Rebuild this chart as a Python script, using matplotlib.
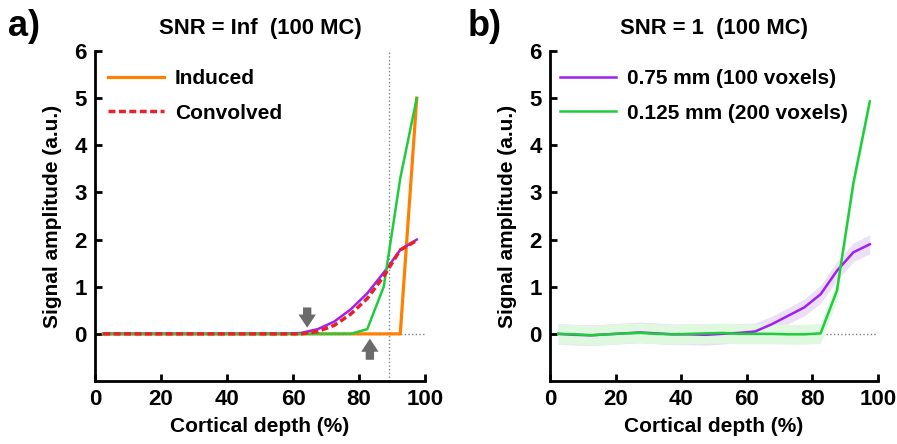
import matplotlib
matplotlib.use("Agg")
import matplotlib.pyplot as plt
import numpy as np

plt.rcParams["font.family"] = ["Liberation Sans", "DejaVu Sans"]
plt.rcParams["font.weight"] = "bold"

# cortical depth sampling (%)
depth = [2.5, 7.5, 12.5, 17.5, 22.5, 27.5, 32.5, 37.5, 42.5, 47.5,
         52.5, 57.5, 62.5, 67.5, 72.5, 77.5, 82.5, 87.5, 92.5, 97.5]

# panel a: SNR = Inf
induced = [0, 0, 0, 0, 0, 0, 0, 0, 0, 0, 0, 0, 0, 0, 0, 0, 0, 0, 0, 5.0]
convolved = [0, 0, 0, 0, 0, 0, 0, 0, 0, 0, 0, 0, 0.0, 0.05, 0.18, 0.42, 0.75, 1.22, 1.78, 1.98]
coarse_inf = [0, 0, 0, 0, 0, 0, 0, 0, 0, 0, 0, 0, 0.02, 0.1, 0.26, 0.52, 0.86, 1.3, 1.78, 2.0]
fine_inf = [0, 0, 0, 0, 0, 0, 0, 0, 0, 0, 0, 0, 0, 0, 0, 0, 0.1, 1.0, 3.3, 5.0]

# panel b: SNR = 1 (mean and spread over MC runs)
coarse_snr1 = [0.0, -0.02, -0.03, -0.01, 0.01, 0.03, 0.01, -0.01, -0.01, -0.02,
               0.0, 0.02, 0.05, 0.2, 0.38, 0.56, 0.84, 1.34, 1.73, 1.9]
coarse_sd = [0.22, 0.22, 0.22, 0.22, 0.22, 0.22, 0.22, 0.22, 0.22, 0.22,
             0.22, 0.2, 0.18, 0.17, 0.17, 0.18, 0.19, 0.2, 0.2, 0.2]
fine_snr1 = [0.0, -0.01, -0.03, -0.01, 0.01, 0.02, 0.0, -0.01, 0.0, 0.01,
             0.02, 0.0, 0.0, 0.0, -0.01, -0.01, 0.01, 0.92, 3.2, 4.93]
fine_sd = [0.21, 0.21, 0.21, 0.21, 0.21, 0.21, 0.21, 0.21, 0.21, 0.21,
           0.21, 0.21, 0.21, 0.21, 0.21, 0.21, 0.21, 0.2, 0.18, 0.15]

ORANGE = "#ff8000"
RED = "#e8202a"
PURPLE = "#a020f0"
GREEN = "#1fcc3c"
GREY = "#808080"

FS = 15

fig = plt.figure(figsize=(8.97, 4.44), dpi=100)
ax_a = fig.add_axes([95 / 897, 63 / 444, 330 / 897, 330 / 444])
ax_b = fig.add_axes([550 / 897, 63 / 444, 328 / 897, 330 / 444])


def style(ax, title):
    ax.set_xlim(0, 100)
    ax.set_ylim(-1, 6)
    ax.set_xticks([0, 20, 40, 60, 80, 100])
    ax.set_yticks([0, 1, 2, 3, 4, 5, 6])
    for s in ("top", "right"):
        ax.spines[s].set_visible(False)
    for s in ("left", "bottom"):
        ax.spines[s].set_linewidth(2)
    ax.tick_params(direction="in", length=5, width=2, labelsize=16)
    ax.tick_params(axis="x", pad=6)
    ax.tick_params(axis="y", pad=6)
    for lab in ax.get_xticklabels() + ax.get_yticklabels():
        lab.set_fontweight("bold")
    ax.set_xlabel("Cortical depth (%)", fontsize=FS, fontweight="bold", labelpad=5)
    ax.set_ylabel("Signal amplitude (a.u.)", fontsize=FS, fontweight="bold", labelpad=9)
    ax.set_title(title, fontsize=15.8, fontweight="bold", pad=12)
    ax.axhline(0, color=GREY, ls=":", lw=1, zorder=0)


legend_kw = dict(loc="upper left", frameon=False, borderpad=0, borderaxespad=0,
                 handlelength=2.7, handletextpad=0.5, labelspacing=0.75,
                 prop={"size": FS, "weight": "bold"})

# a)
style(ax_a, "SNR = Inf  (100 MC)")
ax_a.axvline(89, color=GREY, ls=":", lw=1, zorder=0)
ax_a.plot(depth, induced, color=ORANGE, lw=2.3, label="Induced", zorder=2)
ax_a.plot(depth, coarse_inf, color=PURPLE, lw=1.8, zorder=3)
ax_a.plot(depth, fine_inf, color=GREEN, lw=1.8, zorder=4)
ax_a.plot(depth, convolved, color=RED, lw=2.5, ls=(0, (2, 1)), label="Convolved", zorder=5)
arrow = dict(arrowstyle="simple,head_width=1.25,head_length=0.95,tail_width=0.6",
             color="#6b6b6b", lw=0, shrinkA=0, shrinkB=0, mutation_scale=10)
ax_a.annotate("", xy=(64.3, 0.13), xytext=(64.3, 0.56), arrowprops=arrow)
ax_a.annotate("", xy=(83.3, -0.1), xytext=(83.3, -0.55), arrowprops=arrow)
ax_a.legend(bbox_to_anchor=(0.04, 0.945), **legend_kw)

# b)
style(ax_b, "SNR = 1  (100 MC)")
c1 = np.array(coarse_snr1); s1 = np.array(coarse_sd)
f1 = np.array(fine_snr1); s2 = np.array(fine_sd)
ax_b.fill_between(depth, c1 - s1, c1 + s1, color="#ece0f6", lw=0, zorder=1)
ax_b.fill_between(depth, f1 - s2, f1 + s2, color="#e0f8e0", lw=0, zorder=1.5)
ax_b.plot(depth, coarse_snr1, color=PURPLE, lw=1.8, label="0.75 mm (100 voxels)", zorder=3)
ax_b.plot(depth, fine_snr1, color=GREEN, lw=1.8, label="0.125 mm (200 voxels)", zorder=4)
ax_b.legend(bbox_to_anchor=(0.03, 0.945), **legend_kw)

fig.text(8 / 897, 1 - 27 / 444, "a)", fontsize=26, fontweight="bold", va="center")
fig.text(468 / 897, 1 - 27 / 444, "b)", fontsize=26, fontweight="bold", va="center")

fig.savefig("out.png", dpi=100)
